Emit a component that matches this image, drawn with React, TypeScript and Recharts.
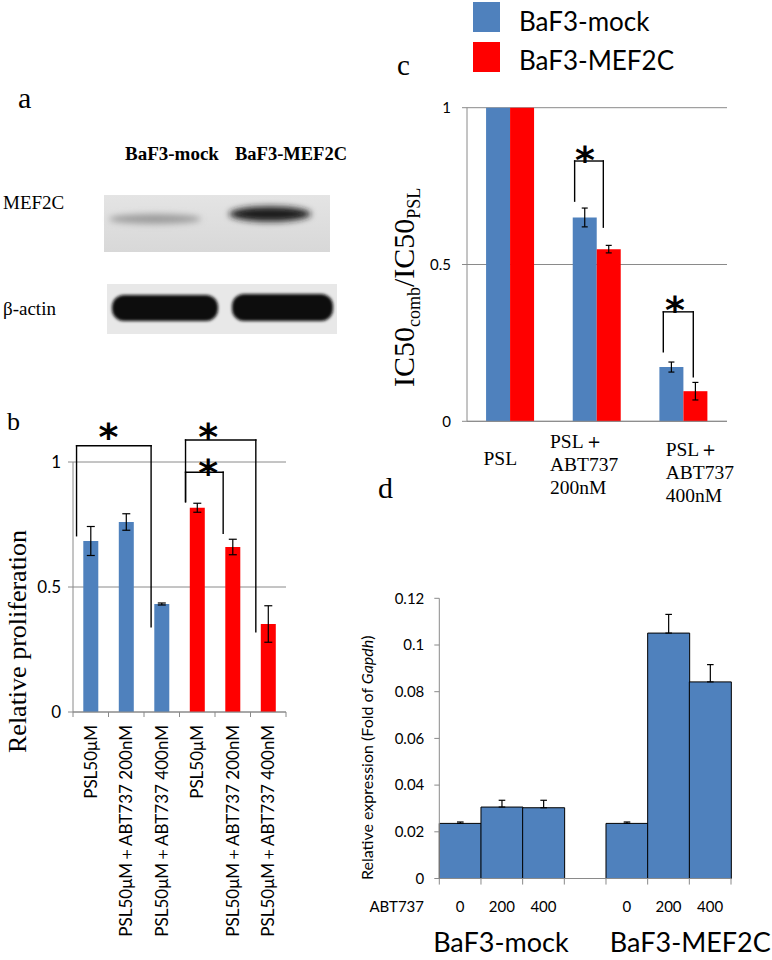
import React from 'react';
import {
  BarChart,
  Bar,
  Cell,
  XAxis,
  YAxis,
  CartesianGrid,
  ErrorBar,
  ReferenceLine,
  ReferenceDot,
  Legend,
} from 'recharts';

// panel b: relative proliferation
const profLabels = [
  'PSL50μM',
  'PSL50μM＋ABT737 200nM',
  'PSL50μM＋ABT737 400nM',
  'PSL50μM',
  'PSL50μM＋ABT737 200nM',
  'PSL50μM＋ABT737 400nM',
];
const profLines = ['mock', 'mock', 'mock', 'mef2c', 'mef2c', 'mef2c'];
const profValues = [0.684, 0.76, 0.432, 0.817, 0.66, 0.352];
const profErrors = [0.058, 0.033, 0.004, 0.018, 0.031, 0.073];
const profTicks = [0, 0.5, 1];
// significance brackets: x in bar slots, y in axis units
const profBrackets = [
  { left: 0.1, right: 2.2, top: 1.065, leftEnd: 0.705, rightEnd: 0.341, starX: 0.995, starY: 1.131 },
  { left: 3.17, right: 5.15, top: 1.088, leftEnd: 0.841, rightEnd: 0.321, starX: 3.81, starY: 1.131 },
  { left: 3.17, right: 4.23, top: 0.959, leftEnd: 0.841, rightEnd: 0.715, starX: 3.81, starY: 0.988 },
];

// panel c: IC50 ratio
const icCategories = ['PSL', 'PSL＋\nABT737\n200nM', 'PSL＋\nABT737\n400nM'];
const icMock = [1, 0.65, 0.173];
const icMockErr = [null, 0.03, 0.016];
const icMef2c = [1, 0.549, 0.096];
const icMef2cErr = [null, 0.012, 0.028];
const icTicks = [0, 0.5, 1];
const icBrackets = [
  { left: 1.242, right: 1.573, top: 0.83, leftEnd: 0.702, rightEnd: 0.619, starX: 1.36, starY: 0.86 },
  { left: 2.265, right: 2.611, top: 0.349, leftEnd: 0.222, rightEnd: 0.142, starX: 2.4, starY: 0.381 },
];

// panel d: Mef2c expression
const exprDoses = ['0', '200', '400', '', '0', '200', '400'];
const exprValues = [0.0236, 0.0306, 0.0303, null, 0.0236, 0.1051, 0.0842];
const exprErrors = [0.0006, 0.0029, 0.0032, null, 0.0006, 0.008, 0.0074];
const exprGroups = ['BaF3-mock', '', '', '', 'BaF3-MEF2C', '', ''];
const exprTicks = [0, 0.02, 0.04, 0.06, 0.08, 0.1, 0.12];

const seriesNames = ['BaF3-mock', 'BaF3-MEF2C'];

const BLUE = '#4f81bd';
const RED = '#ff0000';
const GRAY = '#8a8a8a';
const SANS = 'Lato, "Open Sans", sans-serif';
const SERIF = '"Liberation Serif", "Times New Roman", serif';

const profData = profLabels.map((label, i) => ({
  label,
  value: profValues[i],
  err: profErrors[i],
  line: profLines[i],
  pos: i + 0.5,
}));

const icData = icCategories.map((cat, i) => ({
  cat,
  mock: icMock[i],
  mockErr: icMockErr[i],
  mef2c: icMef2c[i],
  mef2cErr: icMef2cErr[i],
  pos: i + 0.5,
}));

const exprData = exprDoses.map((dose, i) => ({
  dose,
  value: exprValues[i],
  err: exprErrors[i] == null ? null : [0, exprErrors[i]],
  pos: i + 0.5,
}));

const Star = (p: any) => (
  <text
    x={p.cx}
    y={p.cy + 21}
    textAnchor="middle"
    fontFamily="DejaVu Sans"
    fontWeight="bold"
    fontSize={38}
    fill="#000"
  >
    *
  </text>
);

function bracketMarks(list: any[], prefix: string) {
  return list.flatMap((b, i) => [
    <ReferenceLine
      key={`${prefix}${i}a`}
      xAxisId="n"
      segment={[{ x: b.left, y: b.leftEnd }, { x: b.left, y: b.top }]}
      stroke="#000"
      strokeWidth={1.4}
      strokeLinecap="square"
      ifOverflow="visible"
    />,
    <ReferenceLine
      key={`${prefix}${i}b`}
      xAxisId="n"
      segment={[{ x: b.left, y: b.top }, { x: b.right, y: b.top }]}
      stroke="#000"
      strokeWidth={1.4}
      strokeLinecap="square"
      ifOverflow="visible"
    />,
    <ReferenceLine
      key={`${prefix}${i}c`}
      xAxisId="n"
      segment={[{ x: b.right, y: b.top }, { x: b.right, y: b.rightEnd }]}
      stroke="#000"
      strokeWidth={1.4}
      strokeLinecap="square"
      ifOverflow="visible"
    />,
    <ReferenceDot
      key={`${prefix}${i}s`}
      xAxisId="n"
      x={b.starX}
      y={b.starY}
      r={0}
      ifOverflow="visible"
      shape={Star}
    />,
  ]);
}

// small ticks below the x axis at the slot boundaries, as in Excel
function boundaryTicks(count: number, depth: number, prefix: string) {
  return Array.from({ length: count + 1 }, (_, i) => (
    <ReferenceLine
      key={`${prefix}${i}`}
      xAxisId="n"
      segment={[{ x: i, y: 0 }, { x: i, y: -depth }]}
      stroke={GRAY}
      ifOverflow="visible"
    />
  ));
}

const ProlifTick = ({ x, y, payload }: any) => (
  <text
    x={x + 6}
    y={y + 13}
    transform={`rotate(-90 ${x + 6} ${y + 13})`}
    textAnchor="end"
    fontFamily={SANS}
    fontSize={17}
    fill="#000"
  >
    {payload.value}
  </text>
);

const icTickLayout = [
  { dx: -10, dy: 44, anchor: 'middle' },
  { dx: -47, dy: 27, anchor: 'start' },
  { dx: -18, dy: 35, anchor: 'start' },
];

const IcTick = ({ x, y, payload, index }: any) => {
  const l = icTickLayout[index] ?? icTickLayout[0];
  const lines = String(payload.value).split('\n');
  return (
    <text x={x + l.dx} y={y + l.dy} textAnchor={l.anchor} fontFamily={SERIF} fontSize={19.5} fill="#000">
      {lines.map((s, i) => (
        <tspan key={i} x={x + l.dx} dy={i === 0 ? 0 : 22.7}>
          {s}
        </tspan>
      ))}
    </text>
  );
};

const groupDx: Record<number, number> = { 0: -27, 4: -17 };

const ExprTick = ({ x, y, payload, index }: any) => (
  <g>
    <text x={x} y={y + 33} textAnchor="middle" fontFamily={SANS} fontSize={15} fill="#000">
      {payload.value}
    </text>
    {exprGroups[index] ? (
      <text x={x + (groupDx[index] ?? -27)} y={y + 73} fontFamily={SANS} fontSize={27} fill="#000">
        {exprGroups[index]}
      </text>
    ) : null}
  </g>
);

const IcLegend = () => (
  <div style={{ fontFamily: SANS, fontSize: 26, color: '#000' }}>
    {seriesNames.map((name, i) => (
      <div key={name} style={{ display: 'flex', alignItems: 'center', height: 30, marginTop: i ? 10 : 2 }}>
        <span style={{ display: 'inline-block', width: 27, height: 30, background: i ? RED : BLUE, marginRight: 19 }} />
        <span style={{ paddingTop: 8 - i * 3, lineHeight: '30px', whiteSpace: 'nowrap' }}>{name}</span>
      </div>
    ))}
  </div>
);

const Blot = () => (
  <g>
    <defs>
      <filter id="soft" x="-30%" y="-100%" width="160%" height="300%">
        <feGaussianBlur stdDeviation="3" />
      </filter>
      <filter id="soft2" x="-20%" y="-60%" width="140%" height="220%">
        <feGaussianBlur stdDeviation="1.6" />
      </filter>
      <linearGradient id="film1" x1="0" y1="0" x2="0" y2="1">
        <stop offset="0" stopColor="#e4e4e4" />
        <stop offset="1" stopColor="#d8d8d8" />
      </linearGradient>
    </defs>
    <rect x={104} y={195} width={226} height={57} fill="url(#film1)" />
    <ellipse cx={155} cy={219} rx={46} ry={5} fill="#9c9c9c" filter="url(#soft)" />
    <ellipse cx={270} cy={214} rx={41} ry={7.5} fill="#1a1a1a" filter="url(#soft)" />
    <rect x={107} y={284} width={230} height={50} fill="#e8e8e8" />
    <rect x={112} y={295} width={106} height={26} rx={12} fill="#0d0d0d" filter="url(#soft2)" />
    <rect x={232} y={294} width={101} height={27} rx={12} fill="#0d0d0d" filter="url(#soft2)" />
  </g>
);

const axisTick = (size: number) => ({ fontFamily: SANS, fontSize: size, fill: '#000' });

export default function App() {
  return (
    <div style={{ position: 'absolute', left: 0, top: 0, width: 772, height: 960, background: '#fff', overflow: 'hidden' }}>
      <svg width={772} height={960} style={{ position: 'absolute', left: 0, top: 0 }}>
        <Blot />
        <g fontFamily={SERIF} fill="#000">
          <text x={18} y={108} fontSize={30}>a</text>
          <text x={125} y={160} fontSize={19} fontWeight="bold">BaF3-mock</text>
          <text x={235} y={160} fontSize={18.5} fontWeight="bold">BaF3-MEF2C</text>
          <text x={3} y={208.5} fontSize={19}>MEF2C</text>
          <text x={3} y={315} fontSize={19}>β-actin</text>
          <text x={7} y={430} fontSize={26}>b</text>
          <text x={397} y={75} fontSize={29}>c</text>
          <text x={378} y={498} fontSize={30}>d</text>
          <text x={26} y={753} fontSize={26} transform="rotate(-90 26 753)">
            Relative proliferation
          </text>
          <text x={414} y={387} fontSize={30} transform="rotate(-90 414 387)">
            IC50
            <tspan fontSize={18} dy={6}>comb</tspan>
            <tspan dy={-6}>/IC50</tspan>
            <tspan fontSize={18} dy={6}>PSL</tspan>
          </text>
        </g>
        <g fontFamily={SANS} fill="#000">
          <text x={373} y={880} fontSize={16} transform="rotate(-90 373 880)">
            Relative expression (Fold of <tspan fontStyle="italic">Gapdh</tspan>)
          </text>
          <text x={424} y={912} fontSize={15} textAnchor="end">ABT737</text>
        </g>
      </svg>

      {/* b */}
      <div style={{ position: 'absolute', left: 0, top: 380 }}>
        <BarChart
          width={300}
          height={580}
          data={profData}
          margin={{ top: 82, right: 14, bottom: 28, left: 13 }}
          barCategoryGap="29%"
        >
          <CartesianGrid horizontal vertical={false} stroke={GRAY} />
          <XAxis
            dataKey="label"
            interval={0}
            height={220}
            tickSize={0}
            tickMargin={0}
            tickLine={false}
            axisLine={{ stroke: GRAY }}
            tick={<ProlifTick />}
          />
          <XAxis xAxisId="n" type="number" dataKey="pos" domain={[0, 6]} allowDataOverflow hide />
          <YAxis
            width={60}
            domain={[0, 1]}
            ticks={profTicks}
            tickFormatter={(v) => String(v)}
            tickSize={5}
            tickMargin={7}
            axisLine={{ stroke: GRAY }}
            tickLine={{ stroke: GRAY }}
            tick={axisTick(17)}
          />
          <Bar dataKey="value" isAnimationActive={false}>
            {profData.map((d, i) => (
              <Cell key={i} fill={d.line === 'mock' ? BLUE : RED} />
            ))}
            <ErrorBar dataKey="err" direction="y" width={4} stroke="#000" strokeWidth={1.2} isAnimationActive={false} />
          </Bar>
          {boundaryTicks(6, 0.02, 'bt')}
          {bracketMarks(profBrackets, 'bb')}
        </BarChart>
      </div>

      {/* c */}
      <div style={{ position: 'absolute', left: 380, top: 0 }}>
        <BarChart
          width={392}
          height={520}
          data={icData}
          margin={{ top: 107.7, right: 45, bottom: 8.7, left: 27 }}
          barCategoryGap="22%"
          barGap={0}
        >
          <CartesianGrid horizontal vertical={false} stroke={GRAY} />
          <XAxis
            dataKey="cat"
            interval={0}
            height={90}
            tickSize={0}
            tickMargin={0}
            tickLine={false}
            axisLine={{ stroke: GRAY }}
            tick={<IcTick />}
          />
          <XAxis xAxisId="n" type="number" dataKey="pos" domain={[0, 3]} allowDataOverflow hide />
          <YAxis
            width={60}
            domain={[0, 1]}
            ticks={icTicks}
            tickFormatter={(v) => String(v)}
            tickSize={5}
            tickMargin={11}
            axisLine={{ stroke: GRAY }}
            tickLine={{ stroke: GRAY }}
            tick={axisTick(15)}
          />
          <Legend
            layout="horizontal"
            verticalAlign="middle"
            align="center"
            wrapperStyle={{ top: 0, left: 93, width: 260 }}
            content={<IcLegend />}
          />
          <Bar dataKey="mock" name={seriesNames[0]} fill={BLUE} isAnimationActive={false}>
            <ErrorBar dataKey="mockErr" direction="y" width={3} stroke="#000" strokeWidth={1.2} isAnimationActive={false} />
          </Bar>
          <Bar dataKey="mef2c" name={seriesNames[1]} fill={RED} isAnimationActive={false}>
            <ErrorBar dataKey="mef2cErr" direction="y" width={3} stroke="#000" strokeWidth={1.2} isAnimationActive={false} />
          </Bar>
          {bracketMarks(icBrackets, 'cb')}
        </BarChart>
      </div>

      {/* d */}
      <div style={{ position: 'absolute', left: 330, top: 570 }}>
        <BarChart
          width={442}
          height={390}
          data={exprData}
          margin={{ top: 28.3, right: 41, bottom: 41.5, left: 59.3 }}
          barCategoryGap={0}
        >
          <XAxis
            dataKey="dose"
            interval={0}
            height={40}
            tickSize={0}
            tickMargin={0}
            tickLine={false}
            axisLine={{ stroke: GRAY }}
            tick={<ExprTick />}
          />
          <XAxis xAxisId="n" type="number" dataKey="pos" domain={[0, 7]} allowDataOverflow hide />
          <YAxis
            width={50}
            domain={[0, 0.12]}
            ticks={exprTicks}
            tickFormatter={(v) => String(v)}
            tickSize={5}
            tickMargin={10}
            axisLine={{ stroke: GRAY }}
            tickLine={{ stroke: GRAY }}
            tick={axisTick(15)}
          />
          <Bar dataKey="value" fill={BLUE} stroke="#000" strokeWidth={1} isAnimationActive={false}>
            <ErrorBar dataKey="err" direction="y" width={3.3} stroke="#000" strokeWidth={1.2} isAnimationActive={false} />
          </Bar>
          {boundaryTicks(7, 0.0026, 'dt')}
        </BarChart>
      </div>
    </div>
  );
}
